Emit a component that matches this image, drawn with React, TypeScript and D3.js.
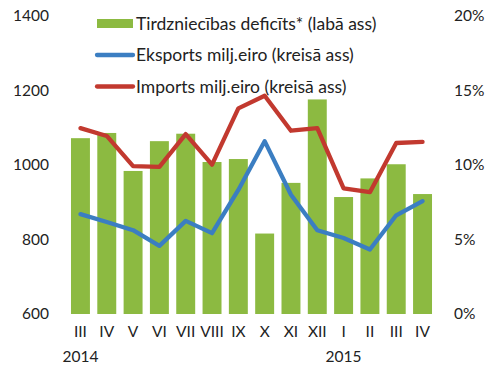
import React from "react";
import * as d3 from "d3";

const categories = ["III", "IV", "V", "VI", "VII", "VIII", "IX", "X", "XI", "XII", "I", "II", "III", "IV"];
const yearLabels = [
  { index: 0, label: "2014" },
  { index: 10, label: "2015" },
];
const deficitPct = [11.8, 12.15, 9.6, 11.6, 12.1, 10.2, 10.4, 5.4, 8.8, 14.4, 7.85, 9.1, 10.05, 8.05];
const exportsVal = [868, 847, 825, 783, 850, 817, 933, 1064, 920, 825, 804, 773, 865, 903];
const importsVal = [1099, 1078, 997, 995, 1083, 1001, 1152, 1186, 1092, 1099, 937, 927, 1059, 1062];
const leftTicks = [600, 800, 1000, 1200, 1400];
const rightTicks = [0, 5, 10, 15, 20];
const legendItems = [
  { label: "Tirdzniecības deficīts* (labā ass)", kind: "bar" },
  { label: "Eksports milj.eiro (kreisā ass)", kind: "blue" },
  { label: "Imports milj.eiro (kreisā ass)", kind: "red" },
];

const GREEN = "#8cba41";
const BLUE = "#3b7ec2";
const RED = "#c2392f";
const TEXT = "#222";
const FONT = "Lato, 'Open Sans', sans-serif";

export default function App() {
  const W = 500, H = 375;
  const x = d3.scaleBand<number>().domain(categories.map((_, i) => i)).range([67.3, 435.7]).paddingInner(0.28).paddingOuter(0.14);
  const yL = d3.scaleLinear().domain([600, 1400]).range([314, 16]);
  const yR = d3.scaleLinear().domain([0, 20]).range([314, 16]);
  const cx = (i: number) => (x(i) as number) + x.bandwidth() / 2;
  const line = d3.line<number>().x((_, i) => cx(i)).y((d) => yL(d));

  return (
    <svg width={W} height={H} style={{ position: "absolute", left: 0, top: 0, fontFamily: FONT }}>
      <rect width={W} height={H} fill="#fff" />
      {deficitPct.map((v, i) => (
        <rect key={i} x={x(i)} y={yR(v)} width={x.bandwidth()} height={yR(0) - yR(v)} fill={GREEN} />
      ))}
      <path d={line(importsVal) || ""} fill="none" stroke={RED} strokeWidth={4.3} strokeLinejoin="round" strokeLinecap="round" />
      <path d={line(exportsVal) || ""} fill="none" stroke={BLUE} strokeWidth={4.3} strokeLinejoin="round" strokeLinecap="round" />
      {leftTicks.map((t) => (
        <text key={t} x={49} y={yL(t)} dy="0.35em" textAnchor="end" fontSize={15.5} fill={TEXT}>{t}</text>
      ))}
      {rightTicks.map((t) => (
        <text key={t} x={454} y={yR(t)} dy="0.35em" textAnchor="start" fontSize={15.5} fill={TEXT}>{t + "%"}</text>
      ))}
      {categories.map((c, i) => (
        <text key={i} x={cx(i)} y={332} dy="0.35em" textAnchor="middle" fontSize={15.5} fill={TEXT}>{c}</text>
      ))}
      {yearLabels.map((yl) => (
        <text key={yl.label} x={cx(yl.index)} y={357} dy="0.35em" textAnchor="middle" fontSize={15.5} fill={TEXT}>{yl.label}</text>
      ))}
      {legendItems.map((it, i) => {
        const cy = 23.5 + i * 31.5;
        return (
          <g key={i}>
            {it.kind === "bar" ? (
              <rect x={97} y={cy - 4.5} width={36} height={9} fill={GREEN} />
            ) : (
              <line x1={97} x2={133} y1={cy} y2={cy} stroke={it.kind === "blue" ? BLUE : RED} strokeWidth={4.3} strokeLinecap="round" />
            )}
            <text x={136} y={cy} dy="0.35em" fontSize={17.5} fill={TEXT}>{it.label}</text>
          </g>
        );
      })}
    </svg>
  );
}
